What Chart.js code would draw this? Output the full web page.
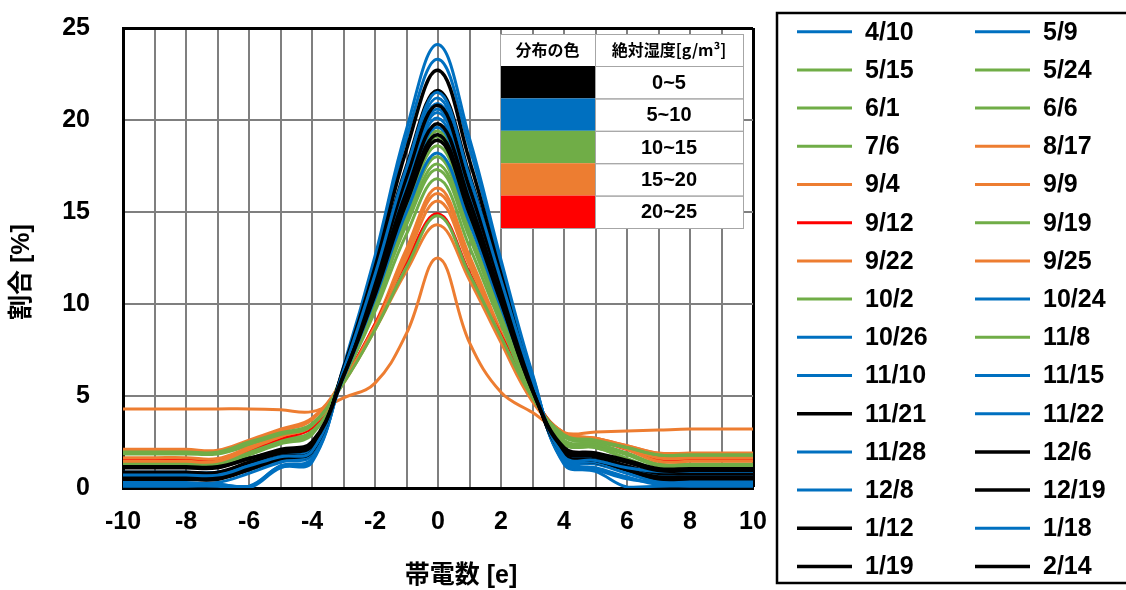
<!DOCTYPE html>
<html lang="ja">
<head>
<meta charset="utf-8">
<script src="https://cdn.jsdelivr.net/npm/chart.js"></script>
<title>帯電数分布</title>
<style>
  html, body { margin: 0; padding: 0; background: #fff; }
  #wrap { width: 1126px; height: 590px; position: relative; }
</style>
</head>
<body>
<div id="wrap"><canvas id="chargeChart"></canvas></div>
<script>
// charge number [e]
const xValues = [-10,-9,-8,-7,-6,-5,-4,-3,-2,-1,0,1,2,3,4,5,6,7,8,9,10];

const seriesLabels = ['4/10','5/9','5/15','5/24','6/1','6/6','7/6','8/17','9/4','9/9',
  '9/12','9/19','9/22','9/25','10/2','10/24','10/26','11/8','11/10','11/15',
  '11/21','11/22','11/28','12/6','12/8','12/19','1/12','1/18','1/19','2/14'];

// ratio [%] for each measurement day, x = -10 .. 10
const d0410 = [0.1,0.1,0.1,0.1,0.0,1.1,1.4,6.6,12.6,19.5,24.1,19.0,12.4,6.2,1.3,0.9,0.05,0.1,0.1,0.1,0.1];
const d0509 = [0.25,0.25,0.25,0.2,0.05,1.2,1.5,6.5,12.3,19.0,23.3,18.5,12.1,6.1,1.4,1.0,0.5,0.3,0.3,0.3,0.3];
const d0515 = [1.2,1.2,1.2,1.2,1.8,2.5,3.0,6.3,10.6,15.8,19.4,15.1,10.0,5.2,2.5,2.3,1.8,1.2,1.2,1.2,1.2];
const d0524 = [1.3,1.3,1.3,1.3,1.9,2.6,3.1,6.2,10.5,15.6,19.1,14.9,9.9,5.2,2.4,2.2,1.6,1.0,1.0,1.0,1.0];
const d0601 = [1.4,1.4,1.4,1.4,2.0,2.6,3.1,6.1,10.3,15.2,18.6,14.6,9.7,5.2,2.6,2.4,1.9,1.3,1.3,1.3,1.3];
const d0606 = [1.85,1.85,1.85,1.85,2.3,2.8,3.3,6.0,10.1,14.8,18.0,14.0,9.4,5.1,2.8,2.5,2.2,1.75,1.75,1.75,1.75];
const d0706 = [1.95,1.95,1.95,1.9,2.4,2.9,3.4,6.0,9.9,14.5,17.6,13.7,9.2,5.1,2.9,2.6,2.2,1.75,1.75,1.75,1.75];
const d0817 = [2.1,2.1,2.1,2.05,2.6,3.2,3.8,5.9,8.9,13.0,16.3,12.6,8.5,4.9,3.0,2.7,2.3,1.9,1.9,1.9,1.9];
const d0904 = [4.3,4.3,4.3,4.3,4.3,4.25,4.15,4.9,5.7,8.4,12.5,7.9,5.2,4.1,3.0,3.05,3.1,3.15,3.2,3.2,3.2];
const d0909 = [2.05,2.05,2.05,2.0,2.5,3.1,3.7,5.9,8.8,12.8,16.0,12.4,8.4,4.9,3.0,2.7,2.3,1.88,1.88,1.88,1.88];
const d0912 = [1.55,1.55,1.55,1.55,2.1,2.7,3.3,5.8,8.9,12.3,14.9,11.7,8.3,5.0,2.9,2.6,2.1,1.52,1.52,1.52,1.52];
const d0919 = [1.2,1.2,1.2,1.2,1.8,2.4,2.9,6.1,9.9,14.3,17.3,13.6,9.2,5.1,2.4,2.2,1.6,1.0,1.0,1.0,1.0];
const d0922 = [1.65,1.65,1.65,1.6,2.2,2.8,3.4,5.7,8.6,11.8,14.3,11.3,7.9,4.7,3.0,2.7,2.2,1.63,1.63,1.63,1.63];
const d0925 = [1.45,1.45,1.45,1.45,2.1,2.8,3.4,5.8,8.8,12.5,15.6,12.1,8.2,4.9,2.9,2.6,2.1,1.45,1.45,1.45,1.45];
const d1002 = [1.9,1.9,1.9,1.9,2.4,2.9,3.4,6.0,9.6,13.8,16.8,13.1,8.9,5.0,2.8,2.5,2.2,1.8,1.8,1.8,1.8];
const d1024 = [0.8,0.8,0.8,0.8,1.2,1.7,2.0,6.4,11.4,17.1,21.2,16.6,11.1,5.9,1.7,1.5,1.0,0.65,0.65,0.65,0.65];
const d1026 = [0.5,0.5,0.5,0.5,1.0,1.5,1.9,6.4,11.3,16.9,20.9,16.4,11.0,5.9,1.6,1.4,0.9,0.5,0.5,0.5,0.5];
const d1108 = [1.95,1.95,1.95,1.95,2.5,3.0,3.5,5.7,8.6,12.0,14.8,11.6,8.2,4.9,2.9,2.6,2.2,1.8,1.8,1.8,1.8];
const d1110 = [0.3,0.3,0.3,0.3,0.8,1.4,1.8,6.3,11.2,16.7,20.6,16.2,10.9,5.8,1.5,1.3,0.8,0.4,0.4,0.4,0.4];
const d1115 = [0.85,0.85,0.85,0.85,1.3,1.8,2.1,6.3,11.1,16.6,20.4,16.0,10.7,5.6,1.9,1.6,1.1,0.7,0.7,0.7,0.7];
const d1121 = [0.5,0.5,0.5,0.5,1.0,1.6,1.9,6.5,12.0,18.4,22.7,17.8,11.6,5.7,1.7,1.4,0.9,0.45,0.45,0.45,0.45];
const d1122 = [0.55,0.55,0.55,0.55,1.0,1.5,1.9,6.3,11.0,16.4,20.1,15.8,10.7,5.8,1.6,1.4,0.8,0.35,0.35,0.35,0.35];
const d1128 = [0.85,0.85,0.85,0.85,1.3,1.8,2.2,6.0,10.3,15.0,18.2,14.4,9.8,5.5,1.9,1.7,1.1,0.65,0.65,0.65,0.65];
const d1206 = [0.6,0.6,0.6,0.6,1.1,1.7,2.0,6.4,11.6,17.5,21.6,17.0,11.2,5.6,1.8,1.5,1.0,0.5,0.5,0.5,0.5];
const d1208 = [0.22,0.22,0.22,0.2,0.1,1.2,1.6,6.2,10.9,16.0,19.6,15.5,10.5,5.8,1.4,1.1,0.6,0.2,0.2,0.2,0.2];
const d1219 = [0.48,0.48,0.48,0.48,1.0,1.6,2.0,6.4,11.3,16.9,20.8,16.3,10.9,5.5,1.8,1.5,1.0,0.6,0.6,0.6,0.6];
const d0112 = [0.85,0.85,0.85,0.85,1.4,1.9,2.3,6.2,10.9,16.1,19.8,15.6,10.4,5.4,2.0,1.7,1.2,0.8,0.8,0.8,0.8];
const d0118 = [0.7,0.7,0.7,0.7,1.2,1.7,2.0,6.4,11.6,17.4,21.5,16.9,11.3,5.9,1.7,1.5,1.1,0.9,0.9,0.9,0.9];
const d0119 = [1.1,1.1,1.1,1.1,1.6,2.0,2.4,6.1,10.6,15.7,19.2,15.1,10.2,5.3,2.1,1.8,1.4,0.95,0.95,0.95,0.95];
const d0214 = [1.15,1.15,1.15,1.15,1.6,2.1,2.5,6.1,10.5,15.5,18.9,14.9,10.1,5.3,2.2,1.9,1.5,1.05,1.05,1.05,1.05];

const seriesValues = [d0410,d0509,d0515,d0524,d0601,d0606,d0706,d0817,d0904,d0909,
  d0912,d0919,d0922,d0925,d1002,d1024,d1026,d1108,d1110,d1115,
  d1121,d1122,d1128,d1206,d1208,d1219,d0112,d0118,d0119,d0214];

// humidity table (absolute humidity g/m3 -> colour)
const BLACK = '#000000', BLUE = '#0070C0', GREEN = '#70AD47', ORANGE = '#ED7D31', RED = '#FF0000';
const humidityRanges = ['0~5','5~10','10~15','15~20','20~25'];
const humidityColors = [BLACK, BLUE, GREEN, ORANGE, RED];

const lineColors = [BLUE,BLUE,GREEN,GREEN,GREEN,GREEN,GREEN,ORANGE,ORANGE,ORANGE,
  RED,GREEN,ORANGE,ORANGE,GREEN,BLUE,BLUE,GREEN,BLUE,BLUE,
  BLACK,BLUE,BLUE,BLACK,BLUE,BLACK,BLACK,BLUE,BLACK,BLACK];

const FONT = '"Liberation Sans", Arial, "Noto Sans CJK JP", sans-serif';

const datasets = seriesLabels.map((label, i) => ({
    label: label,
    data: seriesValues[i].map((v, k) => ({ x: xValues[k], y: v })),
    borderColor: lineColors[i],
    backgroundColor: lineColors[i],
    borderWidth: lineColors[i] === BLACK ? 3.5 : 3,
    pointRadius: 0,
    tension: 0.4,
    fill: false,
    order: seriesLabels.length - i
}));

const overlayPlugin = {
    id: 'overlay',
    afterDraw(chart) {
        const ctx = chart.ctx;
        const area = chart.chartArea;
        ctx.save();

        // axis titles
        ctx.fillStyle = '#000';
        ctx.textAlign = 'center';
        ctx.textBaseline = 'middle';
        ctx.font = 'bold 25px ' + FONT;
        ctx.fillText('帯電数 [e]', 461, 576);
        ctx.save();
        ctx.translate(22, 272);
        ctx.rotate(-Math.PI / 2);
        ctx.fillText('割合 [%]', 0, 0);
        ctx.restore();

        // humidity colour table inside the plot
        const tx = area.right - 253, ty = area.top + 6;
        const c1 = 95, c2 = 148, headH = 32, rowH = 32.4;
        ctx.fillStyle = '#fff';
        ctx.fillRect(tx, ty, c1 + c2, headH + rowH * humidityRanges.length);
        ctx.strokeStyle = '#a6a6a6';
        ctx.lineWidth = 1;
        ctx.fillStyle = '#000';
        ctx.font = 'bold 16px "Noto Sans CJK JP", sans-serif';
        ctx.fillText('分布の色', tx + c1 / 2, ty + headH / 2);
        ctx.fillText('絶対湿度[g/m³]', tx + c1 + c2 / 2, ty + headH / 2);
        ctx.strokeRect(tx + 0.5, ty + 0.5, c1, headH);
        ctx.strokeRect(tx + c1 + 0.5, ty + 0.5, c2, headH);
        humidityRanges.forEach((r, i) => {
            const y = ty + headH + i * rowH;
            ctx.fillStyle = humidityColors[i];
            ctx.fillRect(tx, y, c1, rowH);
            ctx.strokeRect(tx + c1 + 0.5, y + 0.5, c2, rowH);
            ctx.fillStyle = '#000';
            ctx.font = 'bold 20px ' + FONT;
            ctx.fillText(r, tx + c1 + c2 / 2, y + rowH / 2 + 1);
        });
        ctx.strokeRect(tx + 0.5, ty + 0.5, c1 + c2, headH + rowH * humidityRanges.length);

        // legend box on the right, two columns
        ctx.strokeStyle = '#000';
        ctx.lineWidth = 2.5;
        ctx.strokeRect(777, 13, 380, 570);
        ctx.textAlign = 'left';
        ctx.font = 'bold 25px ' + FONT;
        chart.data.datasets.forEach((ds, i) => {
            const col = i % 2, row = Math.floor(i / 2);
            const lx = col === 0 ? 797 : 975;
            const ly = 31.7 + row * 38.2;
            ctx.strokeStyle = ds.borderColor;
            ctx.lineWidth = ds.borderWidth;
            ctx.beginPath();
            ctx.moveTo(lx, ly);
            ctx.lineTo(lx + 55, ly);
            ctx.stroke();
            ctx.fillStyle = '#000';
            ctx.fillText(ds.label, lx + 68, ly + 1);
        });
        ctx.restore();
    }
};

const chargeChart = new Chart(document.getElementById('chargeChart').getContext('2d'), {
    type: 'line',
    data: { datasets: datasets },
    options: {
        responsive: true,
        maintainAspectRatio: false,
        animation: false,
        layout: { padding: { top: 28, right: 373, left: 0, bottom: 0 } },
        plugins: {
            legend: { display: false },
            tooltip: { enabled: false }
        },
        scales: {
            x: {
                type: 'linear',
                min: -10,
                max: 10,
                afterFit: (scale) => { scale.height = 102; },
                ticks: {
                    stepSize: 1,
                    autoSkip: false,
                    maxRotation: 0,
                    padding: 19,
                    color: '#000',
                    font: { family: FONT, size: 25, weight: 'bold' },
                    callback: (v) => (v % 2 === 0 ? String(v) : '')
                },
                grid: {
                    drawTicks: false,
                    color: (c) => (c.tick && c.tick.value === 10 ? '#000' : '#7f7f7f'),
                    lineWidth: (c) => (c.tick && c.tick.value === 10 ? 3 : 2)
                },
                border: { color: '#000', width: 3 }
            },
            y: {
                min: 0,
                max: 25,
                afterFit: (scale) => {
                    scale.width = 123;
                    scale.paddingTop = 0;
                    scale.paddingBottom = 0;
                },
                ticks: {
                    stepSize: 5,
                    padding: 33,
                    color: '#000',
                    font: { family: FONT, size: 25, weight: 'bold' }
                },
                grid: {
                    drawTicks: false,
                    color: (c) => (c.tick && c.tick.value === 25 ? '#000' : '#7f7f7f'),
                    lineWidth: (c) => (c.tick && c.tick.value === 25 ? 3 : 2)
                },
                border: { color: '#000', width: 3 }
            }
        }
    },
    plugins: [overlayPlugin]
});
</script>
</body>
</html>
